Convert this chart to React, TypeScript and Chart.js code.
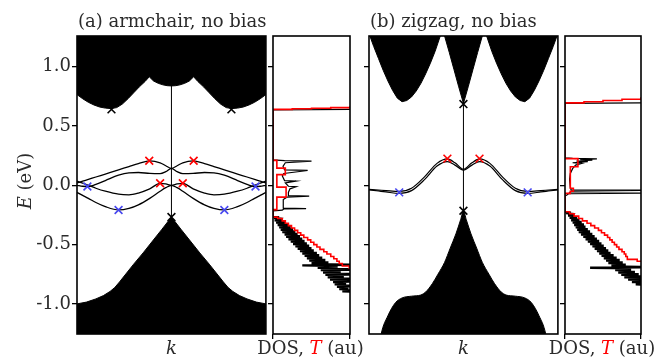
import React, { useEffect, useRef } from "react";
import { Chart, registerables } from "chart.js";

Chart.register(...registerables);

const FONT = "'DejaVu Serif', serif";
const TEXT = "#2b2b2b";
const RED = "#ff0000";
const BLUE = "#4747f0";
const FS = 18;

const E_MIN = -1.254;
const E_MAX = 1.259;
const energyTicks = [-1.0, -0.5, 0.0, 0.5, 1.0];

// ---------- (a) armchair: edge states ----------
const kArm = [-1, -0.94, -0.88, -0.8, -0.7, -0.56, -0.45, -0.35, -0.23, -0.12, -0.06, 0, 0.06, 0.12, 0.23, 0.35, 0.45, 0.56, 0.7, 0.8, 0.88, 0.94, 1];
const armEdgeA = [0.02, 0.035, 0.05, 0.07, 0.095, 0.13, 0.158, 0.183, 0.206, 0.19, 0.165, 0.143, 0.165, 0.19, 0.206, 0.183, 0.158, 0.13, 0.095, 0.07, 0.05, 0.035, 0.02];
const armEdgeB = [0.0, -0.008, -0.01, 0.008, 0.04, 0.085, 0.105, 0.108, 0.1, 0.098, 0.115, 0.143, 0.115, 0.098, 0.1, 0.108, 0.105, 0.085, 0.04, 0.008, -0.01, -0.008, 0.0];
const armEdgeC = [0.035, 0.018, 0.0, -0.025, -0.05, -0.075, -0.08, -0.065, -0.03, 0.017, 0.012, 0.0, 0.012, 0.017, -0.03, -0.065, -0.08, -0.075, -0.05, -0.025, 0.0, 0.018, 0.035];
const armEdgeD = [-0.06, -0.085, -0.11, -0.145, -0.18, -0.208, -0.195, -0.165, -0.11, -0.05, -0.02, 0.0, -0.02, -0.05, -0.11, -0.165, -0.195, -0.208, -0.18, -0.145, -0.11, -0.085, -0.06];

// bulk band envelopes (a)
const kArmCB = [-1, -0.94, -0.88, -0.82, -0.76, -0.7, -0.64, -0.58, -0.52, -0.46, -0.4, -0.34, -0.28, -0.235, -0.19, -0.14, -0.09, -0.045, 0, 0.045, 0.09, 0.14, 0.19, 0.235, 0.28, 0.34, 0.4, 0.46, 0.52, 0.58, 0.64, 0.7, 0.76, 0.82, 0.88, 0.94, 1];
const armCB = [0.765, 0.73, 0.7, 0.677, 0.66, 0.651, 0.647, 0.655, 0.685, 0.73, 0.78, 0.83, 0.875, 0.915, 0.88, 0.86, 0.847, 0.84, 0.838, 0.84, 0.847, 0.86, 0.88, 0.915, 0.875, 0.83, 0.78, 0.73, 0.685, 0.655, 0.647, 0.651, 0.66, 0.677, 0.7, 0.73, 0.765];
const kArmVB = [-1, -0.9, -0.8, -0.72, -0.65, -0.6, -0.55, -0.5, -0.4, -0.3, -0.2, -0.1, 0, 0.1, 0.2, 0.3, 0.4, 0.5, 0.55, 0.6, 0.65, 0.72, 0.8, 0.9, 1];
const armVB = [-1.0, -0.985, -0.958, -0.93, -0.895, -0.862, -0.815, -0.765, -0.665, -0.57, -0.47, -0.37, -0.268, -0.37, -0.47, -0.57, -0.665, -0.765, -0.815, -0.862, -0.895, -0.93, -0.958, -0.985, -1.0];

// markers (a)
const armRedK = [-0.235, 0.235, -0.12, 0.12];
const armRedE = [0.207, 0.207, 0.017, 0.017];
const armBlueK = [-0.89, 0.89, -0.56, 0.56];
const armBlueE = [-0.01, -0.01, -0.208, -0.208];
const armBlackK = [-0.635, 0.635, 0];
const armBlackE = [0.64, 0.64, -0.268];

// DOS / T (a)
const dosArmLowE = [-0.92, -0.9, -0.88, -0.86, -0.84, -0.82, -0.8, -0.78, -0.76, -0.74, -0.72, -0.7, -0.68, -0.66, -0.64, -0.62, -0.6, -0.58, -0.56, -0.54, -0.52, -0.5, -0.48, -0.46, -0.44, -0.42, -0.4, -0.38, -0.36, -0.34, -0.32, -0.3, -0.28];
const dosArmLowL = [1.2, 0.9, 0.86, 0.83, 0.8, 0.78, 0.74, 0.71, 0.68, 0.65, 0.62, 0.58, 0.38, 0.5, 0.47, 0.44, 0.41, 0.38, 0.35, 0.32, 0.29, 0.26, 0.23, 0.2, 0.17, 0.15, 0.12, 0.1, 0.08, 0.06, 0.04, 0.02, 0.01];
const dosArmLowR = [1.2, 1.2, 0.98, 1.2, 0.95, 1.2, 1.2, 0.92, 1.2, 0.88, 1.2, 0.84, 1.2, 0.72, 0.68, 0.64, 0.6, 0.57, 0.53, 0.5, 0.47, 0.44, 0.41, 0.38, 0.35, 0.32, 0.29, 0.26, 0.23, 0.2, 0.16, 0.12, 0.08];
const dosArmMidE = [-0.262, -0.215, -0.21, -0.2, -0.196, -0.192, -0.17, -0.14, -0.12, -0.1, -0.092, -0.087, -0.06, -0.03, -0.012, -0.008, 0.02, 0.035, 0.04, 0.08, 0.1, 0.125, 0.13, 0.16, 0.19, 0.203, 0.208, 0.215, 0.635, 0.642, 1.3];
const dosArmMidV = [0, 0, 0.12, 0.14, 0.43, 0.14, 0.13, 0.13, 0.14, 0.18, 0.47, 0.2, 0.2, 0.22, 0.3, 0.2, 0.16, 0.3, 0.15, 0.12, 0.14, 0.45, 0.15, 0.13, 0.16, 0.5, 0.15, 0, 0, 1.3, 1.3];
const tArmE = [-1.3, -0.7, -0.68, -0.66, -0.64, -0.62, -0.6, -0.58, -0.56, -0.54, -0.52, -0.5, -0.48, -0.46, -0.44, -0.42, -0.4, -0.38, -0.36, -0.34, -0.32, -0.3, -0.28, -0.268, -0.205, -0.1, -0.015, 0.09, 0.145, 0.21, 0.64, 0.645, 0.65, 0.655, 0.66, 1.3];
const tArmV = [1.3, 0.99, 0.9, 0.86, 0.83, 0.79, 0.75, 0.7, 0.66, 0.61, 0.57, 0.53, 0.49, 0.45, 0.4, 0.36, 0.32, 0.28, 0.24, 0.2, 0.16, 0.12, 0.06, 0.0, 0.05, 0.17, 0.05, 0.16, 0.05, 0.0, 0.25, 0.5, 0.75, 1.0, 1.3, 1.3];

// ---------- (b) zigzag ----------
const kZig = [-1, -0.9, -0.82, -0.68, -0.55, -0.41, -0.28, -0.17, -0.09, 0, 0.09, 0.17, 0.28, 0.41, 0.55, 0.68, 0.82, 0.9, 1];
const zigEdgeA = [-0.034, -0.04, -0.045, -0.052, -0.025, 0.073, 0.185, 0.222, 0.19, 0.135, 0.19, 0.222, 0.185, 0.073, -0.025, -0.052, -0.045, -0.04, -0.034];
const zigEdgeB = [-0.038, -0.048, -0.056, -0.068, -0.045, 0.05, 0.162, 0.2, 0.17, 0.128, 0.17, 0.2, 0.162, 0.05, -0.045, -0.068, -0.056, -0.048, -0.038];

const kZigCB = [-1, -0.95, -0.9, -0.85, -0.8, -0.75, -0.7, -0.65, -0.6, -0.55, -0.5, -0.45, -0.4, -0.35, -0.3, -0.245, -0.222, -0.2, -0.15, -0.1, -0.05, 0, 0.05, 0.1, 0.15, 0.2, 0.222, 0.245, 0.3, 0.35, 0.4, 0.45, 0.5, 0.55, 0.6, 0.65, 0.7, 0.75, 0.8, 0.85, 0.9, 0.95, 1];
const zigCB = [1.28, 1.17, 1.07, 0.97, 0.88, 0.8, 0.735, 0.705, 0.715, 0.745, 0.795, 0.86, 0.94, 1.03, 1.13, 1.26, 1.45, 1.26, 1.12, 0.975, 0.83, 0.69, 0.83, 0.975, 1.12, 1.26, 1.45, 1.26, 1.13, 1.03, 0.94, 0.86, 0.795, 0.745, 0.715, 0.705, 0.735, 0.8, 0.88, 0.97, 1.07, 1.17, 1.28];
const kZigVB = [-1, -0.9, -0.87, -0.8, -0.72, -0.65, -0.55, -0.45, -0.4, -0.33, -0.27, -0.2, -0.14, -0.08, -0.03, 0, 0.03, 0.08, 0.14, 0.2, 0.27, 0.33, 0.4, 0.45, 0.55, 0.65, 0.72, 0.8, 0.87, 0.9, 1];
const zigVB = [-1.6, -1.4, -1.25, -1.1, -0.99, -0.95, -0.935, -0.925, -0.9, -0.83, -0.75, -0.65, -0.53, -0.41, -0.29, -0.215, -0.29, -0.41, -0.53, -0.65, -0.75, -0.83, -0.9, -0.925, -0.935, -0.95, -0.99, -1.1, -1.25, -1.4, -1.6];

const zigRedK = [-0.17, 0.17];
const zigRedE = [0.225, 0.225];
const zigBlueK = [-0.68, 0.68];
const zigBlueE = [-0.06, -0.06];
const zigBlackK = [0, 0];
const zigBlackE = [0.685, -0.215];

// DOS / T (b)
const dosZigLowE = [-0.86, -0.84, -0.82, -0.8, -0.78, -0.76, -0.74, -0.72, -0.7, -0.68, -0.66, -0.64, -0.62, -0.6, -0.58, -0.56, -0.54, -0.52, -0.5, -0.48, -0.46, -0.44, -0.42, -0.4, -0.38, -0.36, -0.34, -0.32, -0.3, -0.28, -0.26, -0.24];
const dosZigLowL = [1.2, 0.93, 0.88, 0.83, 0.78, 0.74, 0.7, 0.66, 0.33, 0.61, 0.57, 0.54, 0.51, 0.48, 0.45, 0.42, 0.39, 0.36, 0.33, 0.3, 0.27, 0.24, 0.21, 0.18, 0.16, 0.14, 0.12, 0.1, 0.08, 0.06, 0.04, 0.01];
const dosZigLowR = [1.2, 1.2, 1.2, 1.1, 1.02, 0.97, 0.92, 0.87, 1.2, 0.8, 0.76, 0.72, 0.68, 0.64, 0.6, 0.57, 0.54, 0.51, 0.48, 0.45, 0.42, 0.39, 0.36, 0.33, 0.3, 0.27, 0.25, 0.22, 0.19, 0.16, 0.12, 0.08];
const dosZigMidE = [-0.225, -0.09, -0.08, -0.07, -0.066, -0.063, -0.05, -0.042, -0.038, -0.02, 0.05, 0.1, 0.14, 0.17, 0.185, 0.19, 0.2, 0.205, 0.212, 0.217, 0.222, 0.227, 0.232, 0.69, 0.697, 1.3];
const dosZigMidV = [0, 0, 0.03, 0.05, 1.3, 0.06, 0.08, 1.3, 0.08, 0.07, 0.06, 0.07, 0.1, 0.14, 0.22, 0.1, 0.3, 0.15, 0.36, 0.2, 0.42, 0.1, 0, 0, 1.3, 1.3];
const tZigE = [-1.3, -0.64, -0.625, -0.6, -0.58, -0.56, -0.54, -0.52, -0.5, -0.48, -0.46, -0.44, -0.42, -0.4, -0.38, -0.36, -0.34, -0.32, -0.3, -0.28, -0.26, -0.24, -0.223, -0.068, -0.05, -0.025, 0.157, 0.225, 0.695, 0.705, 0.715, 0.725, 0.735, 1.3];
const tZigV = [1.3, 0.95, 0.82, 0.8, 0.78, 0.75, 0.71, 0.68, 0.65, 0.62, 0.59, 0.56, 0.52, 0.48, 0.44, 0.39, 0.34, 0.29, 0.23, 0.18, 0.12, 0.06, 0.0, 0.07, 0.11, 0.07, 0.17, 0.0, 0.25, 0.5, 0.75, 1.0, 1.3, 1.3];

// ---------- helpers ----------
const pts = (xs: number[], ys: number[]) => xs.map((x, i) => ({ x, y: ys[i] }));
const dosPts = (es: number[], vs: number[]) => es.map((e, i) => ({ x: vs[i], y: e }));
// jagged DOS band between read left/right envelopes
const zig = (es: number[], ls: number[], rs: number[]) => {
  const out: { x: number; y: number }[] = [];
  es.forEach((e, i) => {
    out.push({ x: ls[i], y: e });
    out.push({ x: rs[i], y: e + 0.005 });
    out.push({ x: ls[i], y: e + 0.01 });
    out.push({ x: rs[i], y: e + 0.015 });
  });
  return out;
};

type Part = { t: string; italic?: boolean; color?: string };
function drawParts(ctx: CanvasRenderingContext2D, parts: Part[], x: number, y: number, align: "left" | "center") {
  ctx.save();
  ctx.textBaseline = "alphabetic";
  ctx.textAlign = "left";
  const fonts = parts.map((p) => `${p.italic ? "italic " : ""}${FS}px ${FONT}`);
  let total = 0;
  const widths = parts.map((p, i) => {
    ctx.font = fonts[i];
    const w = ctx.measureText(p.t).width;
    total += w;
    return w;
  });
  let cx = align === "center" ? x - total / 2 : x;
  parts.forEach((p, i) => {
    ctx.font = fonts[i];
    ctx.fillStyle = p.color || TEXT;
    ctx.fillText(p.t, cx, y);
    cx += widths[i];
  });
  ctx.restore();
}

const framePlugin = {
  id: "frame",
  afterDraw(chart: any) {
    const { ctx, chartArea: a } = chart;
    ctx.save();
    ctx.strokeStyle = "#000";
    ctx.lineWidth = 1.6;
    ctx.strokeRect(a.left, a.top, a.right - a.left, a.bottom - a.top);
    ctx.restore();
  },
};

const textPlugin = (fn: (chart: any) => void) => ({ id: "texts", afterDraw: fn });

const lineDs = (data: any[], color: string, width: number) => ({
  data, borderColor: color, borderWidth: width, pointRadius: 0, fill: false,
  cubicInterpolationMode: "monotone", order: 1,
});
const fillDs = (data: any[], fill: string, smooth: boolean) => ({
  data, borderColor: "#000", borderWidth: 1, backgroundColor: "#000", pointRadius: 0, fill,
  cubicInterpolationMode: smooth ? "monotone" : "default", tension: 0, order: 3,
});
const markerDs = (data: any[], color: string) => ({
  data, showLine: false, pointStyle: "crossRot", pointRadius: 5.5, pointHoverRadius: 5.5,
  pointBorderColor: color, pointBackgroundColor: color, pointBorderWidth: 1.6, borderColor: color, order: 0,
});
const vline = () => ({
  data: [{ x: 0, y: E_MIN - 0.1 }, { x: 0, y: E_MAX + 0.1 }],
  borderColor: "#000", borderWidth: 1, pointRadius: 0, tension: 0, order: 2,
});

function yScale(width: number, labels: boolean) {
  return {
    type: "linear", min: E_MIN, max: E_MAX,
    afterFit: (s: any) => { s.width = width; },
    afterBuildTicks: (s: any) => { s.ticks = energyTicks.map((v) => ({ value: v })); },
    ticks: {
      display: labels, padding: 1, color: TEXT, font: { family: FONT, size: FS },
      callback: (v: any) => Number(v).toFixed(1),
    },
    grid: { drawOnChartArea: false, drawTicks: true, tickLength: 5, color: "#000", lineWidth: 1.3 },
    border: { display: false },
  };
}

function bandChart(canvas: HTMLCanvasElement, datasets: any[], yW: number, padRight: number, labels: boolean, title: string, drawYTitle: boolean) {
  return new Chart(canvas, {
    type: "line",
    data: { datasets },
    options: {
      animation: false, responsive: false, events: [],
      layout: { padding: { top: 36, bottom: 26, left: 0, right: padRight } },
      plugins: { legend: { display: false }, tooltip: { enabled: false } },
      scales: {
        x: { type: "linear", min: -1, max: 1, display: false },
        y: yScale(yW, labels) as any,
      },
    } as any,
    plugins: [
      framePlugin,
      textPlugin((chart: any) => {
        const { ctx, chartArea: a } = chart;
        drawParts(ctx, [{ t: title }], a.left + 1, 27, "left");
        drawParts(ctx, [{ t: "k", italic: true }], (a.left + a.right) / 2, 354, "center");
        if (drawYTitle) {
          ctx.save();
          ctx.translate(31, (a.top + a.bottom) / 2 - 4);
          ctx.rotate(-Math.PI / 2);
          drawParts(ctx, [{ t: "E", italic: true }, { t: " (eV)" }], 0, 0, "center");
          ctx.restore();
        }
      }),
    ] as any,
  });
}

function dosChart(canvas: HTMLCanvasElement, datasets: any[], yW: number, padRight: number) {
  return new Chart(canvas, {
    type: "line",
    data: { datasets },
    options: {
      animation: false, responsive: false, events: [],
      layout: { padding: { top: 36, bottom: 0, left: 0, right: padRight } },
      plugins: { legend: { display: false }, tooltip: { enabled: false } },
      scales: {
        x: {
          type: "linear", min: 0, max: 1,
          afterFit: (s: any) => { s.height = 26; },
          afterBuildTicks: (s: any) => { s.ticks = [{ value: 0 }, { value: 1 }]; },
          ticks: { display: false },
          grid: { drawOnChartArea: false, drawTicks: true, tickLength: 5, color: "#000", lineWidth: 1.3 },
          border: { display: false },
        },
        y: yScale(yW, false) as any,
      },
    } as any,
    plugins: [
      framePlugin,
      textPlugin((chart: any) => {
        const { ctx, chartArea: a } = chart;
        drawParts(ctx, [{ t: "DOS, " }, { t: "T", italic: true, color: RED }, { t: " (au)" }], (a.left + a.right) / 2 - 1, 354, "center");
      }),
    ] as any,
  });
}

function dosDatasets(lowE: number[], lowL: number[], lowR: number[], midE: number[], midV: number[], tE: number[], tV: number[]) {
  const black = [{ x: 1.3, y: -1.3 }, ...zig(lowE, lowL, lowR), ...dosPts(midE, midV)];
  return [
    { data: dosPts(tE, tV), borderColor: RED, borderWidth: 1.6, pointRadius: 0, stepped: "after", order: 0 },
    { data: black, borderColor: "#000", borderWidth: 1.2, pointRadius: 0, tension: 0, order: 1 },
  ];
}

export default function App() {
  const c1 = useRef<HTMLCanvasElement>(null);
  const c2 = useRef<HTMLCanvasElement>(null);
  const c3 = useRef<HTMLCanvasElement>(null);
  const c4 = useRef<HTMLCanvasElement>(null);

  useEffect(() => {
    const armDatasets = [
      markerDs(pts(armRedK, armRedE), RED),
      markerDs(pts(armBlueK, armBlueE), BLUE),
      markerDs(pts(armBlackK, armBlackE), "#000"),
      lineDs(pts(kArm, armEdgeA), "#000", 1.3),
      lineDs(pts(kArm, armEdgeB), "#000", 1.3),
      lineDs(pts(kArm, armEdgeC), "#000", 1.3),
      lineDs(pts(kArm, armEdgeD), "#000", 1.3),
      vline(),
      fillDs(pts(kArmCB, armCB), "end", false),
      fillDs(pts(kArmVB, armVB), "start", false),
    ];
    const zigDatasets = [
      markerDs(pts(zigRedK, zigRedE), RED),
      markerDs(pts(zigBlueK, zigBlueE), BLUE),
      markerDs(pts(zigBlackK, zigBlackE), "#000"),
      lineDs(pts(kZig, zigEdgeA), "#000", 1.2),
      lineDs(pts(kZig, zigEdgeB), "#000", 1.2),
      vline(),
      fillDs(pts(kZigCB, zigCB), "end", false),
      fillDs(pts(kZigVB, zigVB), "start", true),
    ];
    const charts = [
      bandChart(c1.current!, armDatasets, 77, 1, true, "(a) armchair, no bias", true),
      dosChart(c2.current!, dosDatasets(dosArmLowE, dosArmLowL, dosArmLowR, dosArmMidE, dosArmMidV, tArmE, tArmV), 28, 25),
      bandChart(c3.current!, zigDatasets, 14, 0, false, "(b) zigzag, no bias", false),
      dosChart(c4.current!, dosDatasets(dosZigLowE, dosZigLowL, dosZigLowR, dosZigMidE, dosZigMidV, tZigE, tZigV), 30, 20),
    ];
    return () => charts.forEach((c) => c.destroy());
  }, []);

  const cs = (left: number, w: number): React.CSSProperties => ({ position: "absolute", left, top: 0, width: w, height: 360 });
  return (
    <div style={{ position: "absolute", left: 0, top: 0, width: 661, height: 360, background: "#fff", overflow: "hidden" }}>
      <canvas ref={c1} width={273} height={360} style={cs(0, 273)} />
      <canvas ref={c2} width={130} height={360} style={cs(245, 130)} />
      <canvas ref={c3} width={210} height={360} style={cs(355, 210)} />
      <canvas ref={c4} width={126} height={360} style={cs(535, 126)} />
    </div>
  );
}
